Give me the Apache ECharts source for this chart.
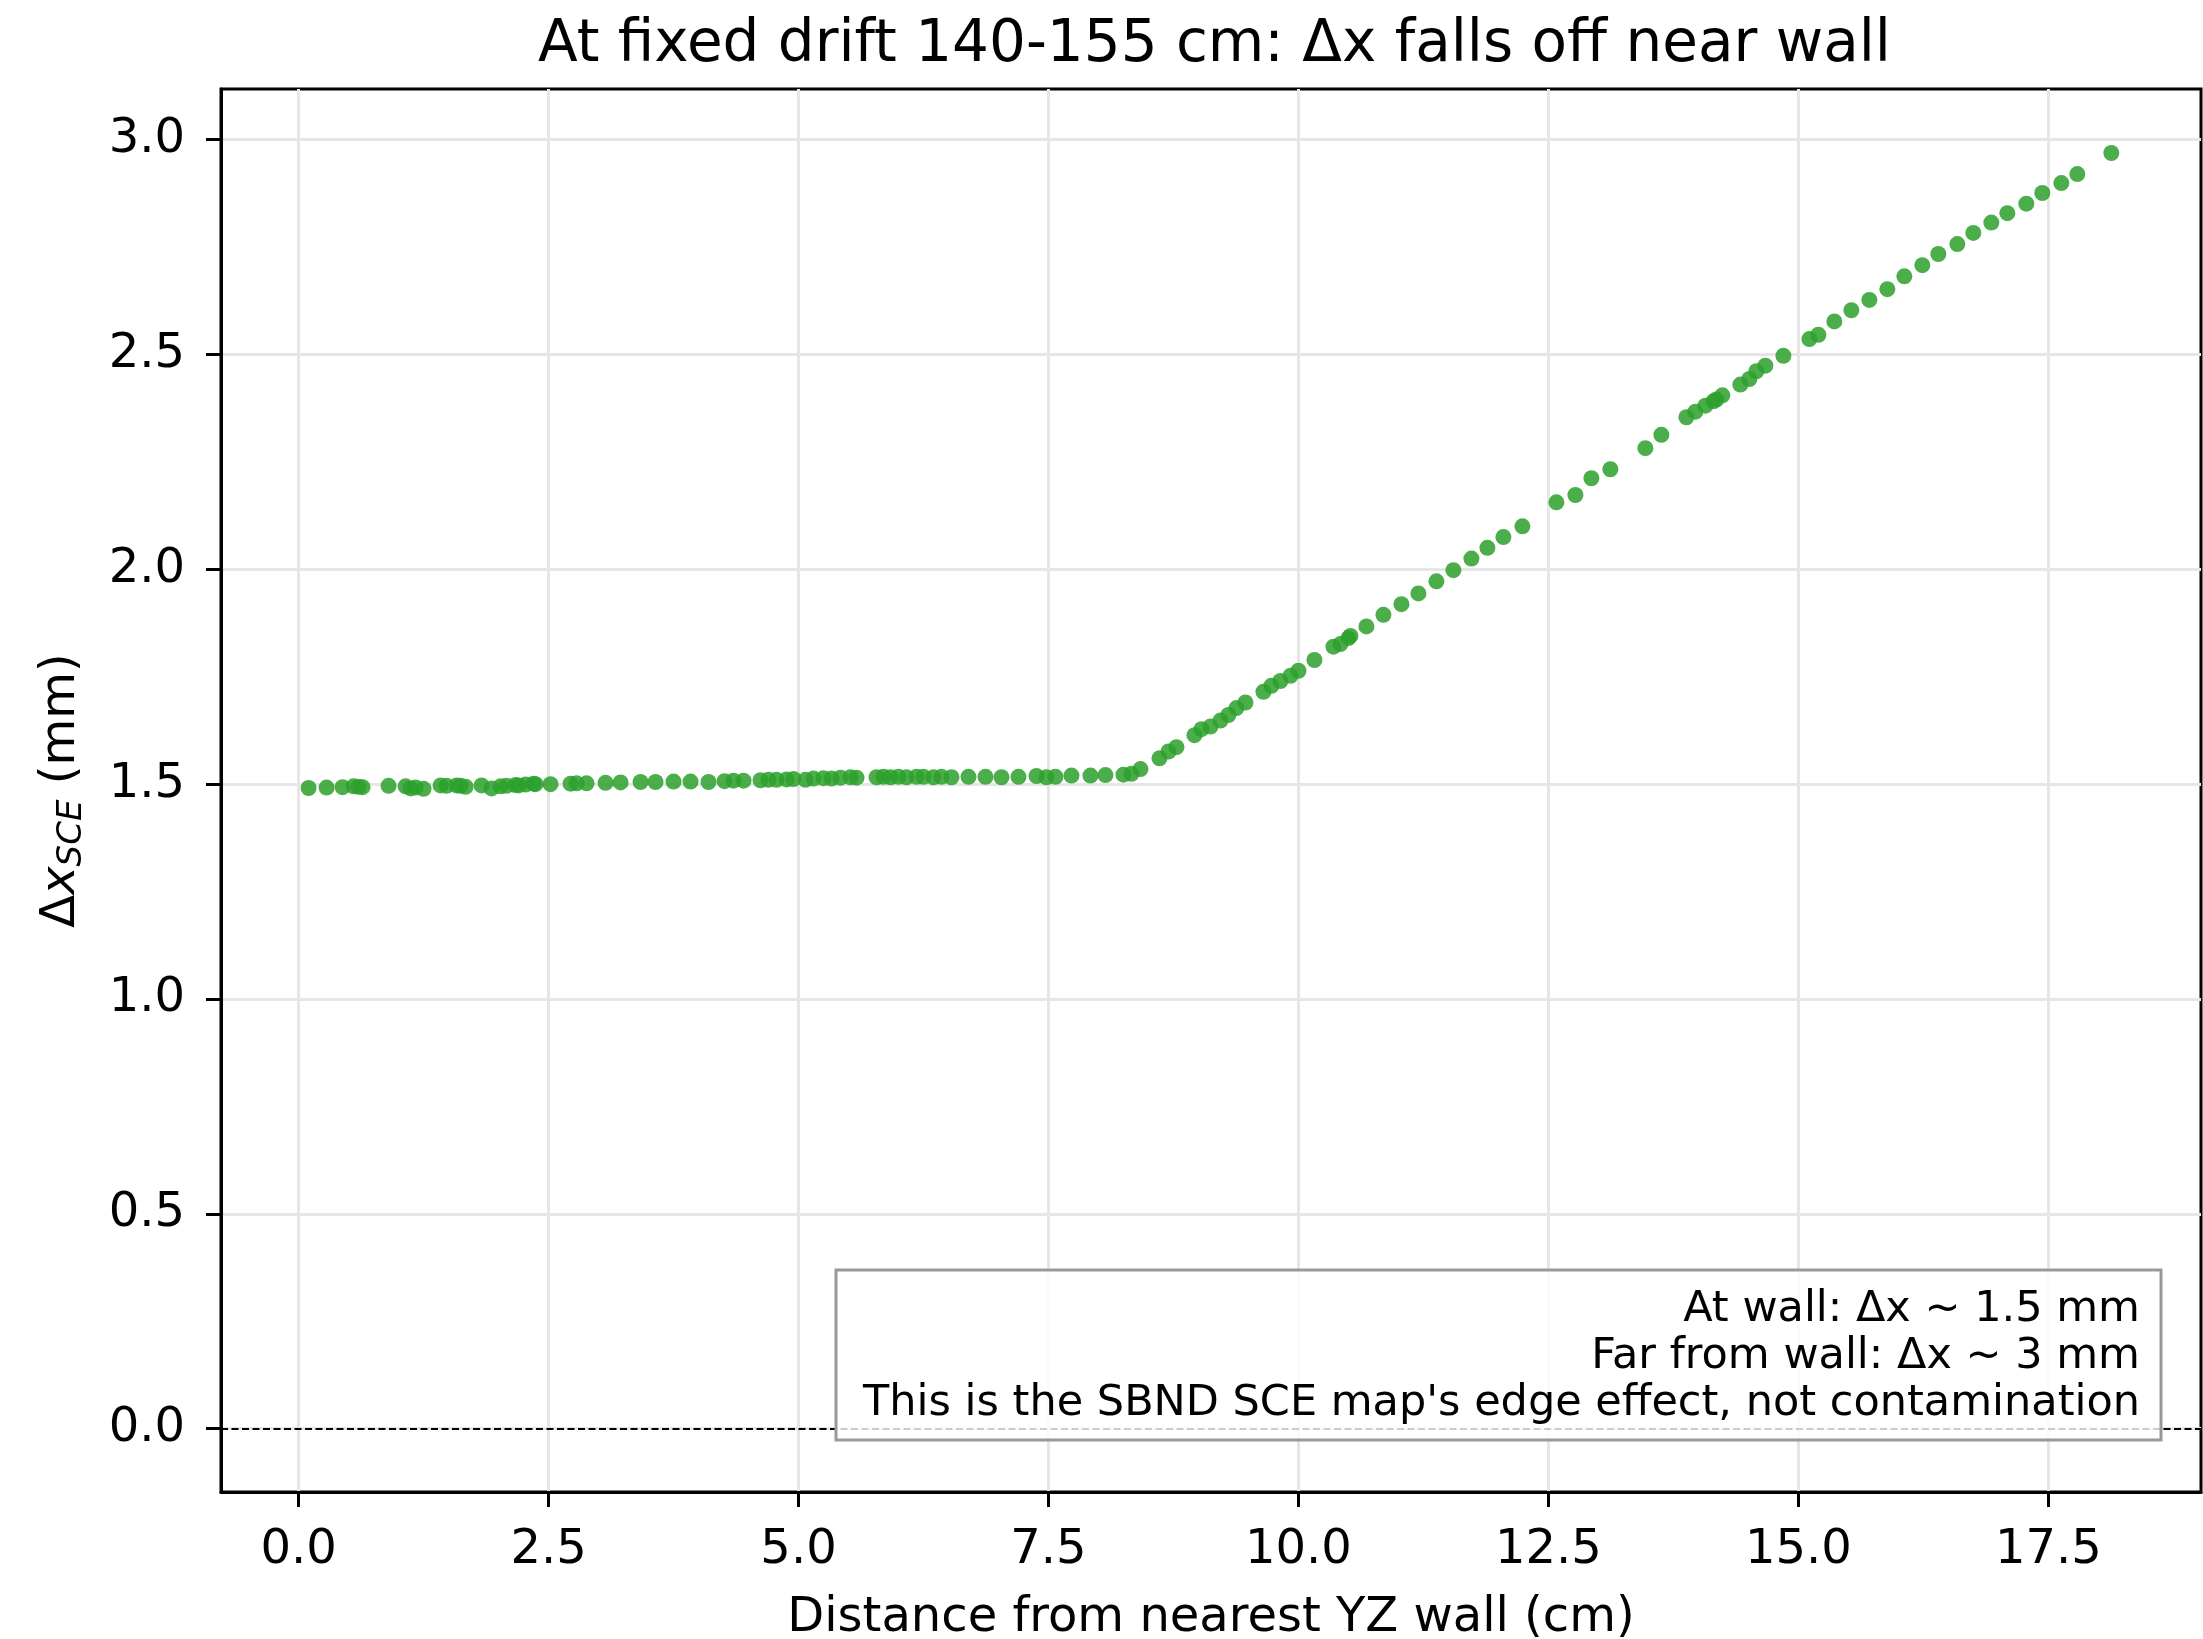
<!DOCTYPE html>
<html>
<head>
<meta charset="utf-8">
<script src="https://cdn.jsdelivr.net/npm/echarts@6/dist/echarts.min.js"></script>
<style>
  html, body { margin: 0; padding: 0; background: #ffffff; }
  #chart { width: 2203px; height: 1639px; }
</style>
</head>
<body>
<div id="chart"></div>
<script>
// ---- data ----
const distanceCm = [
  0.10, 0.28, 0.44, 0.55, 0.60, 0.64, 0.90, 1.07, 1.12, 1.17, 1.25, 1.42, 1.48, 1.58, 1.62, 1.67,
  1.83, 1.93, 2.02, 2.08, 2.17, 2.20, 2.27, 2.35, 2.37, 2.52, 2.72, 2.78, 2.88, 3.07, 3.22, 3.42,
  3.57, 3.75, 3.92, 4.10, 4.26, 4.35, 4.45, 4.62, 4.70, 4.78, 4.88, 4.95, 5.07, 5.15, 5.25, 5.33,
  5.42, 5.52, 5.58, 5.78, 5.85, 5.92, 6.00, 6.08, 6.18, 6.25, 6.35, 6.43, 6.53, 6.70, 6.87, 7.03,
  7.20, 7.38, 7.48, 7.57, 7.73, 7.92, 8.07, 8.25, 8.33,
  8.42, 8.61, 8.70, 8.78, 8.96, 9.03, 9.12, 9.22, 9.30, 9.38, 9.47, 9.65, 9.73, 9.82, 9.92, 10.00,
  10.16, 10.35, 10.42, 10.50, 10.52, 10.68, 10.85, 11.03, 11.20, 11.38, 11.55, 11.73, 11.89, 12.05,
  12.24, 12.58, 12.77, 12.93, 13.12, 13.47, 13.63, 13.88, 13.97, 14.07, 14.15, 14.18, 14.24, 14.42,
  14.51, 14.58, 14.67, 14.85, 15.11, 15.20, 15.36, 15.53, 15.71, 15.89, 16.06, 16.24, 16.40, 16.59,
  16.75, 16.93, 17.09, 17.28, 17.44, 17.63, 17.79, 18.13
];
const deltaXmm = [
  1.491, 1.492, 1.493, 1.495, 1.494, 1.493, 1.496, 1.495, 1.490, 1.492, 1.489, 1.497, 1.496, 1.497, 1.496, 1.494,
  1.497, 1.490, 1.495, 1.496, 1.498, 1.497, 1.499, 1.501, 1.500, 1.500, 1.501, 1.502, 1.502, 1.503, 1.504, 1.505,
  1.505, 1.506, 1.506, 1.505, 1.507, 1.508, 1.508, 1.509, 1.510, 1.510, 1.511, 1.512, 1.510, 1.513, 1.514, 1.513,
  1.515, 1.516, 1.515, 1.516, 1.517, 1.516, 1.517, 1.516, 1.517, 1.517, 1.516, 1.517, 1.516, 1.517, 1.517, 1.516,
  1.517, 1.519, 1.516, 1.517, 1.520, 1.520, 1.521, 1.522, 1.524,
  1.535, 1.560, 1.576, 1.586, 1.614, 1.628, 1.634, 1.648, 1.661, 1.677, 1.690, 1.715, 1.729, 1.740, 1.752, 1.764,
  1.789, 1.820, 1.826, 1.840, 1.845, 1.867, 1.894, 1.919, 1.944, 1.972, 1.998, 2.025, 2.050, 2.075,
  2.100, 2.156, 2.173, 2.212, 2.233, 2.282, 2.313, 2.354, 2.367, 2.381, 2.391, 2.395, 2.405, 2.430,
  2.443, 2.461, 2.474, 2.497, 2.536, 2.546, 2.577, 2.603, 2.627, 2.652, 2.682, 2.708, 2.734, 2.757,
  2.783, 2.807, 2.829, 2.851, 2.876, 2.899, 2.920, 2.969
];
const xTicks = [0, 2.5, 5, 7.5, 10, 12.5, 15, 17.5];
const yTicks = [0, 0.5, 1, 1.5, 2, 2.5, 3];
const titleText = 'At fixed drift 140-155 cm: \u0394x falls off near wall';
const xLabel = 'Distance from nearest YZ wall (cm)';
const noteLines = [
  'At wall: \u0394x ~ 1.5 mm',
  'Far from wall: \u0394x ~ 3 mm',
  "This is the SBND SCE map's edge effect, not contamination"
];

const FONT = '"DejaVu Sans", "Liberation Sans", sans-serif';
const points = distanceCm.map((x, i) => [x, deltaXmm[i]]);

const chart = echarts.init(document.getElementById('chart'), null, { renderer: 'canvas' });

const axisCommon = {
  type: 'value',
  axisLine: { show: true, onZero: false, lineStyle: { color: '#000', width: 3 } },
  axisTick: { show: true, inside: false, length: 15, lineStyle: { color: '#000', width: 3 } },
  splitLine: { show: true, lineStyle: { color: '#e6e6e6', width: 3 } },
  axisLabel: { color: '#000', fontSize: 48, fontFamily: FONT, formatter: v => v.toFixed(1) }
};

chart.setOption({
  animation: false,
  backgroundColor: '#ffffff',
  title: {
    text: titleText,
    left: 538,
    top: 16,
    padding: 0,
    textStyle: { color: '#000', fontSize: 58, fontWeight: 'normal', fontFamily: FONT, lineHeight: 60 }
  },
  grid: {
    left: 221, right: 2, top: 89, bottom: 147,
    outerBoundsMode: 'none',
    containLabel: false,
    show: true, borderColor: '#000', borderWidth: 3, backgroundColor: 'transparent'
  },
  xAxis: Object.assign({}, axisCommon, {
    min: -0.776, max: 19.027,
    name: xLabel,
    nameLocation: 'middle',
    nameGap: 100,
    nameTextStyle: { color: '#000', fontSize: 48, fontFamily: FONT, lineHeight: 54 },
    axisTick: Object.assign({}, axisCommon.axisTick, { customValues: xTicks }),
    axisLabel: Object.assign({}, axisCommon.axisLabel, { customValues: xTicks, margin: 35 })
  }),
  yAxis: Object.assign({}, axisCommon, {
    min: -0.1476, max: 3.118,
    name: '{d|\u0394}{x|x}{s|SCE}{n| (mm)}',
    nameLocation: 'middle',
    nameGap: 132,
    nameTextStyle: {
      color: '#000', fontSize: 48, fontFamily: FONT, lineHeight: 54,
      rich: {
        d: { fontSize: 48, fontFamily: FONT, lineHeight: 54 },
        x: { fontSize: 48, fontFamily: FONT, fontStyle: 'italic', lineHeight: 54 },
        s: { fontSize: 34, fontFamily: FONT, fontStyle: 'italic', lineHeight: 54, verticalAlign: 'bottom' },
        n: { fontSize: 48, fontFamily: FONT, lineHeight: 54 }
      }
    },
    axisTick: Object.assign({}, axisCommon.axisTick, { customValues: yTicks }),
    axisLabel: Object.assign({}, axisCommon.axisLabel, { customValues: yTicks, margin: 36 })
  }),
  series: [{
    type: 'scatter',
    data: points,
    symbol: 'circle',
    symbolSize: 16,
    itemStyle: { color: '#2ca02c', opacity: 0.85 },
    z: 3,
    markLine: {
      silent: true,
      symbol: 'none',
      label: { show: false },
      lineStyle: { color: '#000', width: 2, type: [7, 3.5], opacity: 1 },
      data: [{ yAxis: 0 }],
      z: 2
    }
  }],
  graphic: [{
    type: 'group',
    z: 100,
    children: [
      {
        type: 'rect',
        shape: { x: 836, y: 1270, width: 1325, height: 170 },
        style: { fill: 'rgba(255,255,255,0.8)', stroke: '#999999', lineWidth: 3 },
        z: 100
      },
      {
        type: 'text',
        x: 2140, y: 1286,
        style: {
          text: noteLines.join('\n'),
          fill: '#000',
          font: '43px ' + FONT,
          lineHeight: 47,
          textAlign: 'right',
          textVerticalAlign: 'top'
        },
        z: 101
      }
    ]
  }]
});
</script>
</body>
</html>
